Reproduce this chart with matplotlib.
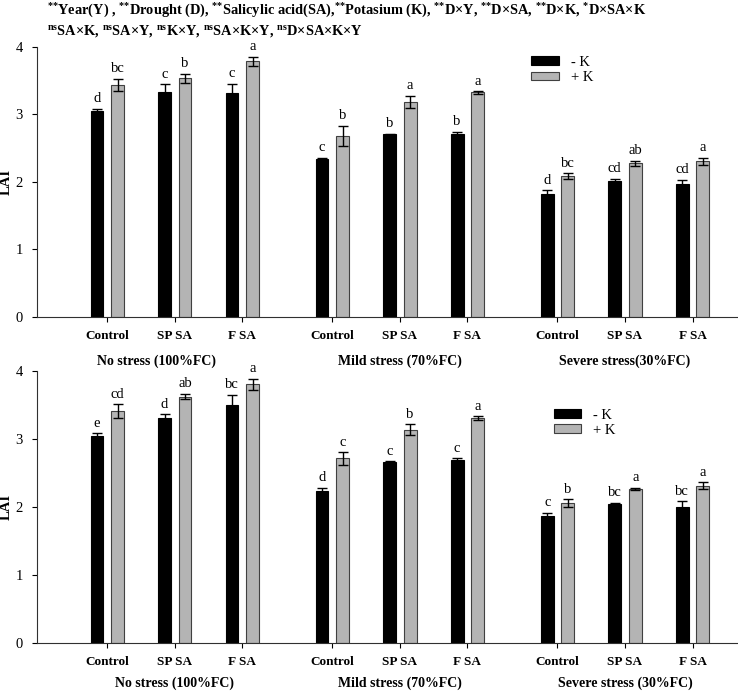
import numpy as np
import matplotlib.pyplot as plt
from matplotlib.transforms import blended_transform_factory, offset_copy

plt.rcParams['font.family'] = 'Liberation Serif'
plt.rcParams['mathtext.fontset'] = 'custom'
plt.rcParams['mathtext.rm'] = 'Liberation Serif:bold'
plt.rcParams['mathtext.it'] = 'Liberation Serif:bold'
plt.rcParams['mathtext.bf'] = 'Liberation Serif:bold'

# ----------------------------
# Data (LAI)
# ----------------------------
treatments = ["Control", "SP SA", "F SA"]
stress_top = ["No stress (100%FC)", "Mild stress (70%FC)", "Severe stress(30%FC)"]
stress_bottom = ["No stress (100%FC)", "Mild stress (70%FC)", "Severe stress (30%FC)"]

top_minus = [3.04, 3.32, 3.31, 2.33, 2.70, 2.70, 1.82, 2.01, 1.96]
top_minus_err = [0.04, 0.12, 0.14, 0.02, 0.01, 0.04, 0.05, 0.03, 0.07]
top_plus = [3.43, 3.53, 3.78, 2.68, 3.18, 3.32, 2.08, 2.27, 2.30]
top_plus_err = [0.09, 0.07, 0.07, 0.15, 0.09, 0.02, 0.04, 0.04, 0.05]
top_minus_letters = ["d", "c", "c", "c", "b", "b", "d", "cd", "cd"]
top_plus_letters = ["bc", "b", "a", "b", "a", "a", "bc", "ab", "a"]

bottom_minus = [3.04, 3.30, 3.49, 2.23, 2.66, 2.68, 1.87, 2.04, 2.00]
bottom_minus_err = [0.04, 0.06, 0.16, 0.05, 0.01, 0.03, 0.04, 0.02, 0.08]
bottom_plus = [3.41, 3.62, 3.80, 2.71, 3.13, 3.30, 2.05, 2.26, 2.31]
bottom_plus_err = [0.10, 0.04, 0.08, 0.09, 0.08, 0.03, 0.06, 0.02, 0.05]
bottom_minus_letters = ["e", "d", "bc", "d", "c", "c", "c", "bc", "bc"]
bottom_plus_letters = ["cd", "ab", "a", "c", "b", "a", "b", "a", "a"]

S2 = r"$^{{*}{*}}$"
S1 = r"$^{{*}}$"
NS = r"$^{\mathrm{ns}}$"
title_line1 = (f"{S2}Year(Y) , {S2}Drought (D), {S2}Salicylic acid(SA),"
               f"{S2}Potasium (K), {S2}D×Y, {S2}D×SA, {S2}D×K, {S1}D×SA×K")
title_line2 = f"{NS}SA×K, {NS}SA×Y, {NS}K×Y, {NS}SA×K×Y, {NS}D×SA×K×Y"

# ----------------------------
# Layout
# ----------------------------
x = np.array([g * (10 / 3) + i for g in range(3) for i in range(3)])
width = 0.19
off = 0.152
group_centers = x[1::3]

fig = plt.figure(figsize=(7.38, 6.94), dpi=100)
W, H = 738, 694


def panel(rect, minus, minus_err, plus, plus_err, l_minus, l_plus,
          stress, label_x, group_pad, legend_anchor):
    ax = fig.add_axes(rect)
    ax.bar(x - off, minus, width, yerr=minus_err, color="black",
           edgecolor="black", linewidth=0.8, label="- K",
           error_kw=dict(ecolor="black", elinewidth=1, capsize=3.5, capthick=1))
    ax.bar(x + off, plus, width, yerr=plus_err, color="#b4b4b4",
           edgecolor="#404040", linewidth=0.8, label="+ K",
           error_kw=dict(ecolor="black", elinewidth=1, capsize=3.5, capthick=1))
    for xi, v, e, s in zip(x - off, minus, minus_err, l_minus):
        ax.annotate(s, (xi, v + e), xytext=(0, 2.5), textcoords="offset points",
                    ha="center", va="bottom", fontsize=10.5)
    for xi, v, e, s in zip(x + off, plus, plus_err, l_plus):
        ax.annotate(s, (xi, v + e), xytext=(0, 2.5), textcoords="offset points",
                    ha="center", va="bottom", fontsize=10.5)

    ax.set_xlim(-1.04, 9.34)
    ax.set_ylim(0, 4)
    ax.set_yticks([0, 1, 2, 3, 4])
    ax.set_xticks(x)
    ax.set_xticklabels(treatments * 3, fontweight="bold", fontsize=9.5)
    ax.tick_params(axis="x", direction="out", length=3.5, width=0.8, pad=6)
    ax.tick_params(axis="y", direction="out", length=3.5, width=0.8, labelsize=10.5, pad=6.5)
    for side in ["top", "right"]:
        ax.spines[side].set_visible(False)
    for side in ["left", "bottom"]:
        ax.spines[side].set_color("#303030")
        ax.spines[side].set_linewidth(0.8)
    ax.set_ylabel("LAI", fontweight="bold", fontsize=10.5)
    ax.yaxis.set_label_coords(-0.034, 0.5)

    trans = offset_copy(blended_transform_factory(ax.transData, ax.transAxes),
                        fig=fig, x=0, y=-group_pad, units="points")
    for lx, s in zip(label_x, stress):
        ax.text(lx, 0, s, transform=trans, ha="center", va="center",
                fontweight="bold", fontsize=10)

    ax.legend(loc="upper left", bbox_to_anchor=legend_anchor, frameon=False,
              fontsize=10.5, handlelength=1.9, handleheight=0.55,
              handletextpad=0.8, labelspacing=0.15, borderpad=0, borderaxespad=0)
    return ax


top_rect = [37 / W, 1 - 316.7 / H, (738 - 37) / W, (316.7 - 46.5) / H]
bot_rect = [37 / W, 1 - 642.7 / H, (738 - 37) / W, (642.7 - 370.7) / H]

panel(top_rect, top_minus, top_minus_err, top_plus, top_plus_err,
      top_minus_letters, top_plus_letters, stress_top,
      [group_centers[0] - 0.27, group_centers[1], group_centers[2]],
      32, (0.705, 0.965))
panel(bot_rect, bottom_minus, bottom_minus_err, bottom_plus, bottom_plus_err,
      bottom_minus_letters, bottom_plus_letters, stress_bottom,
      group_centers, 29, (0.737, 0.86))

fig.text(47 / W, 1 - 11 / H, title_line1, ha="left", va="center",
         fontweight="bold", fontsize=10.4)
fig.text(47 / W, 1 - 31 / H, title_line2, ha="left", va="center",
         fontweight="bold", fontsize=10.4)

fig.savefig("out.png", dpi=100)
